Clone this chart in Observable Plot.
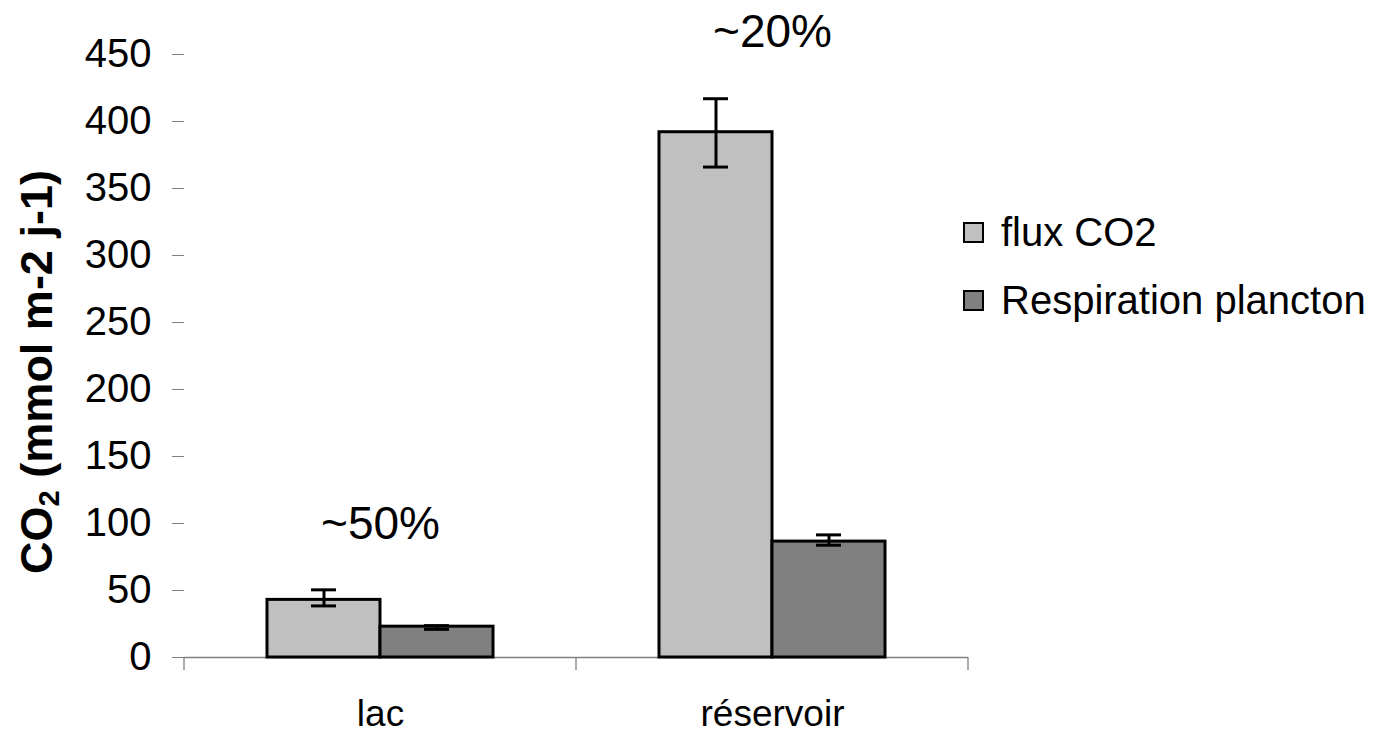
<!DOCTYPE html>
<html><head><meta charset="utf-8">
<script src="https://cdn.jsdelivr.net/npm/d3@7"></script>
<script src="https://cdn.jsdelivr.net/npm/@observablehq/plot@0.6"></script>
<style>
body{margin:0;background:#fff;font-family:"Liberation Sans",Arial,sans-serif;color:#000;}
#wrap{position:relative;width:1391px;height:735px;overflow:hidden;}
#chart{position:absolute;left:0;top:0;}
#ytitle{position:absolute;left:36px;top:372px;transform:translate(-50%,-50%) rotate(-90deg);font-weight:bold;font-size:45px;white-space:nowrap;line-height:1;}
#ytitle sub{font-size:65%;vertical-align:-0.25em;line-height:0;}
#legend{position:absolute;left:963px;top:198px;font-size:40px;}
.item{display:flex;align-items:center;height:68px;white-space:nowrap;}
.sw{width:17px;height:17px;border:2.5px solid #000;margin-right:17px;flex:none;}
</style></head>
<body><div id="wrap"><div id="chart"></div><div id="ytitle">CO<sub>2</sub> (mmol m-2 j-1)</div><div id="legend"></div></div>
<script>
const categories = ["lac", "réservoir"];
const series = ["flux CO2", "Respiration plancton"];
const fluxValues = [43, 392];
const fluxLow = [38.5, 366];
const fluxHigh = [50.5, 417];
const respValues = [23, 86.5];
const respLow = [21, 83.8];
const respHigh = [23.8, 91.5];
const annotations = ["~50%", "~20%"];
const yTicks = [0, 50, 100, 150, 200, 250, 300, 350, 400, 450];
const colors = ["#C0C0C0", "#808080"];

const rows = [];
categories.forEach((c, i) => {
  rows.push({category: c, series: series[0], value: fluxValues[i], low: fluxLow[i], high: fluxHigh[i]});
  rows.push({category: c, series: series[1], value: respValues[i], low: respLow[i], high: respHigh[i]});
});
const notes = categories.map((c, i) => ({category: c, label: annotations[i], top: Math.max(fluxHigh[i], respHigh[i])}));

const chart = Plot.plot({
  width: 985,
  height: 735,
  marginLeft: 183,
  marginRight: 17,
  marginTop: 54,
  marginBottom: 78,
  style: {fontFamily: "'Liberation Sans', Arial, sans-serif", background: "white", color: "black"},
  fx: {domain: categories, padding: 0},
  x: {domain: series, paddingInner: 0, paddingOuter: 0.729, axis: null},
  y: {domain: [0, 450]},
  color: {domain: series, range: colors},
  marks: [
    Plot.ruleY([0], {stroke: "#808080", strokeWidth: 1.3}),
    Plot.axisY({ticks: yTicks, tickSize: 12, tickPadding: 21, fontSize: 40, label: null, stroke: "#808080", line: true, tickFormat: d => String(d)}),
    Plot.axisFx({anchor: "bottom", tickSize: 0, tickPadding: 42, fontSize: 37, label: null}),
    Plot.barY(rows, {fx: "category", x: "series", y: "value", fill: "series", stroke: "black", strokeWidth: 3}),
    Plot.ruleX(rows, {fx: "category", x: "series", y1: "low", y2: "high", stroke: "black", strokeWidth: 3}),
    Plot.tickY(rows, {fx: "category", x: "series", y: "low", stroke: "black", strokeWidth: 3, insetLeft: 44, insetRight: 44}),
    Plot.tickY(rows, {fx: "category", x: "series", y: "high", stroke: "black", strokeWidth: 3, insetLeft: 44, insetRight: 44}),
    Plot.text(notes, {fx: "category", y: "top", text: "label", dy: -66, fontSize: 46, fill: "black"})
  ]
});
document.getElementById("chart").appendChild(chart);

// category boundary tick marks below the baseline (Excel style), from the library's scales
const fxs = chart.scale("fx");
const ys = chart.scale("y");
const y0 = ys.apply(0);
const bounds = categories.map(c => fxs.apply(c)).concat([fxs.apply(categories[categories.length - 1]) + fxs.bandwidth]);
d3.select(chart).append("g")
  .attr("stroke", "#808080").attr("stroke-width", 1.3)
  .selectAll("line").data(bounds).join("line")
  .attr("x1", d => d).attr("x2", d => d)
  .attr("y1", y0).attr("y2", y0 + 13);

// legend
const lg = d3.select("#legend");
series.forEach((s, i) => {
  const it = lg.append("div").attr("class", "item");
  it.append("div").attr("class", "sw").style("background", colors[i]);
  it.append("span").text(s);
});
</script>
</body></html>
